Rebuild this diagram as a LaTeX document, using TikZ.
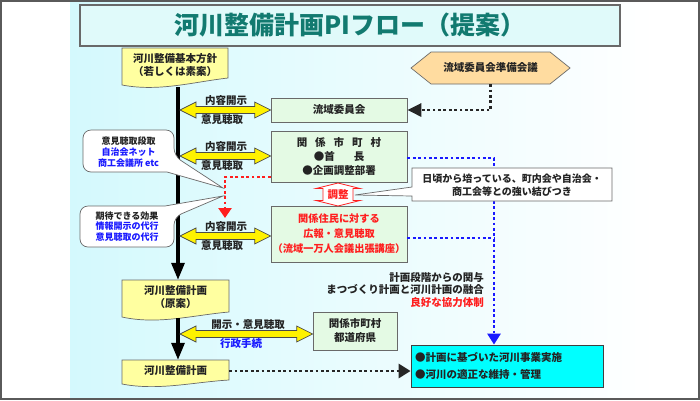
\documentclass[tikz,border=0pt]{standalone}
\usepackage{fontspec}
\setmainfont{Noto Sans CJK JP}
\usetikzlibrary{arrows.meta,calc}
\definecolor{bgc}{RGB}{212,249,253}
\definecolor{titlef}{RGB}{224,250,250}
\definecolor{titlet}{RGB}{18,122,112}
\definecolor{docy}{RGB}{255,255,160}
\definecolor{boxg}{RGB}{228,250,228}
\definecolor{hexo}{RGB}{255,220,160}
\definecolor{cyb}{RGB}{0,255,255}
\definecolor{bl}{RGB}{25,25,255}
\definecolor{rd}{RGB}{255,30,30}
\definecolor{bord}{RGB}{105,105,105}
\definecolor{txt}{RGB}{35,35,35}
\definecolor{framec}{RGB}{90,90,90}
\newcommand\dblarr[2]{\filldraw[yarr] let \p1=(#1), \p2=(#2) in
  (\x1,\y1) -- (\x1+16pt,\y1+8pt) -- (\x1+16pt,\y1+3.5pt) -- (\x2-16pt,\y1+3.5pt) -- (\x2-16pt,\y1+8pt)
  -- (\x2,\y1) -- (\x2-16pt,\y1-8pt) -- (\x2-16pt,\y1-3.5pt) -- (\x1+16pt,\y1-3.5pt) -- (\x1+16pt,\y1-8pt) -- cycle;}
\begin{document}
\begin{tikzpicture}[x=1pt,y=-1pt,
  every node/.style={text=txt, inner sep=0pt, align=center},
  fb/.style={font=\bfseries\fontsize{10.5}{13}\selectfont},
  fs/.style={font=\bfseries\fontsize{9}{11}\selectfont},
  gbox/.style={draw=bord, fill=boxg, line width=0.7pt, font=\bfseries\fontsize{10.5}{14}\selectfont},
  docs/.style={fill=docy, draw=bord, line width=0.7pt},
  yarr/.style={fill=yellow, draw=bord!70!black, line width=0.7pt},
  mainln/.style={line width=3.2pt, draw=black, -{Triangle[length=17pt,width=13pt]}},
  kdot/.style={line width=2.9pt, dash pattern=on 2.8pt off 2.6pt, draw=black!85},
  bdot/.style={line width=2.9pt, dash pattern=on 2.8pt off 2.6pt, draw=bl},
  rdot/.style={line width=2.9pt, dash pattern=on 2.8pt off 2.6pt, draw=rd},
  callout/.style={fill=white, draw=bord, line width=0.7pt}]
\useasboundingbox (0,0) rectangle (700,400);
\fill[white] (0,0) rectangle (700,400);
\shade[left color=bgc, right color=white] (70,1.5) rectangle (655,398);
\draw[framec, line width=2pt] (1,1) rectangle (699,399);

% title
\node[draw=bord, line width=1.6pt, fill=titlef, minimum width=540, minimum height=41,
      font=\bfseries\fontsize{25}{30}\selectfont, text=titlet] (title) at (350,25.5) {河川整備計画PIフロー（提案）};

% document shapes
\filldraw[docs] (122,48) -- (228,48) -- (228,78) .. controls (193,82) and (159,92) .. (122,85) -- cycle;
\node[fb, minimum width=106, minimum height=35] (bA) at (175,65.5) {河川整備基本方針\\（若しくは素案）};
\filldraw[docs] (122,280) -- (229,280) -- (229,312) .. controls (194,315) and (158,325) .. (122,317) -- cycle;
\node[fb, minimum width=107, minimum height=35] (bB) at (175.5,297.5) {河川整備計画\\（原案）};
\filldraw[docs] (122,360) -- (229,360) -- (229,380) .. controls (194,382) and (158,391) .. (122,384) -- cycle;
\node[fb, minimum width=107, minimum height=22] (bC) at (175.5,371) {河川整備計画};

% hexagon
\filldraw[fill=hexo, draw=bord, line width=0.7pt] (411,68) -- (431,52) -- (550,52) -- (570,68) -- (550,84) -- (431,84) -- cycle;
\node[fb, minimum width=159, minimum height=32] (hex) at (490.5,68) {流域委員会準備会議};

% green boxes
\node[gbox, minimum width=136, minimum height=24] (rk) at (339,110) {流域委員会};
\node[gbox, minimum width=136, minimum height=51] (sk) at (339,156.5)
  {関\hspace{8pt}係\hspace{8pt}市\hspace{8pt}町\hspace{8pt}村\\●首\hspace{19pt}長\\●企画調整部署};
\node[gbox, minimum width=136, minimum height=56, text=rd, font=\bfseries\fontsize{10.2}{15}\selectfont] (jm) at (339,234)
  {関係住民に対する\\広報・意見聴取\\（流域一万人会議出張講座）};
\node[gbox, minimum width=84, minimum height=38] (tk) at (355,331) {関係市町村\\都道府県};
\node[draw=black!75, fill=cyb, line width=0.8pt, minimum width=192, minimum height=42, text width=184, inner xsep=4pt,
      align=left, font=\bfseries\fontsize{10.5}{17}\selectfont] (cy) at (507,366)
  {●計画に基づいた河川事業実施\\●河川の適正な維持・管理};

% main line
\coordinate (m1) at (178,87);
\coordinate (m2) at (178,318);
\draw[mainln] (m1) -- (m1 |- bB.north);
\draw[mainln] (m2) -- (m2 |- bC.north);

% double arrows
\coordinate (a1) at (180,110);
\coordinate (a2) at (180,156);
\coordinate (a3) at (180,236);
\coordinate (a4) at (180,334);
\dblarr{a1}{rk.west}
\dblarr{a2}{sk.west}
\dblarr{a3}{jm.west}
\dblarr{a4}{tk.west}
\node[fb] (l1a) at (226,101) {内容開示};
\node[fb] (l1b) at (222,119.5) {意見聴取};
\node[fb] (l2a) at (226,146.5) {内容開示};
\node[fb] (l2b) at (222,165.5) {意見聴取};
\node[fb] (l3a) at (226,227) {内容開示};
\node[fb] (l3b) at (222,245.5) {意見聴取};
\node[fb] (l4a) at (248,325) {開示・意見聴取};
\node[fb, text=bl] (l4b) at (241,343.5) {行政手続};

% dotted connectors
\draw[kdot, -{Triangle[length=14pt,width=13pt]}] (hex.south) |- (rk.east);
\draw[kdot, -{Triangle[length=12pt,width=14pt]}] (bC.east) -- (bC.east -| cy.west);
\coordinate (bc) at (494,158);
\coordinate (bj) at (494,238);
\draw[bdot, -{Triangle[length=11pt,width=13pt]}] (sk.east |- bc) -- (bc) -- (cy.north -| bc);
\draw[bdot] (jm.east |- bj) -- (bj);
\coordinate (rc) at (225,177);
\coordinate (rt) at (225,218);
\draw[rdot, -{Triangle[length=10pt,width=13pt]}] (sk.west |- rc) -- (rc) -- (rt);

% chosei
\filldraw[fill=white, draw=rd, line width=0.8pt] (338,183) -- (360,188.5) -- (353,188.5) -- (353,200.5) -- (360,200.5)
  -- (338,206) -- (316,200.5) -- (323,200.5) -- (323,188.5) -- (316,188.5) -- cycle;
\node[fb, text=rd] (chosei) at (338,194.5) {調整};

% callouts
\coordinate (t1) at (223,188);
\coordinate (t2) at (223,196);
\coordinate (t3) at (355,195);
\filldraw[callout] (128,130) [rounded corners=8pt] -- (174,130) -- (174,156) [sharp corners] -- (t1) -- (167,172)
  [rounded corners=8pt] -- (83,172) -- (83,130) -- cycle;
\node[fs] (co1) at (128.5,152.5) {意見聴取段取\\\textcolor{bl}{自治会ネット}\\\textcolor{bl}{商工会議所 etc}};
\filldraw[callout] (127,206) [rounded corners=8pt] -- (80,206) -- (80,247) -- (174,247) -- (174,217) [sharp corners] -- (t2) -- (165,206) -- cycle;
\node[fs, font=\bfseries\fontsize{9}{10.5}\selectfont] (co2) at (127,226.5) {期待できる効果\\\textcolor{bl}{情報開示の代行}\\\textcolor{bl}{意見聴取の代行}};
\filldraw[callout] (412,168) -- (612,168) -- (612,201) -- (412,201) -- (412,196) -- (t3) -- (412,187) -- cycle;
\node[font=\bfseries\fontsize{10}{13.5}\selectfont] (nt) at (512,185) {日頃から培っている、町内会や自治会・\\商工会等との強い結びつき};

% right text
\node[anchor=east, align=right, font=\bfseries\fontsize{10.5}{12.5}\selectfont] (kanyo) at (484,290)
  {計画段階からの関与\\まつづくり計画と河川計画の融合\\\textcolor{rd}{良好な協力体制}};
\end{tikzpicture}
\end{document}
